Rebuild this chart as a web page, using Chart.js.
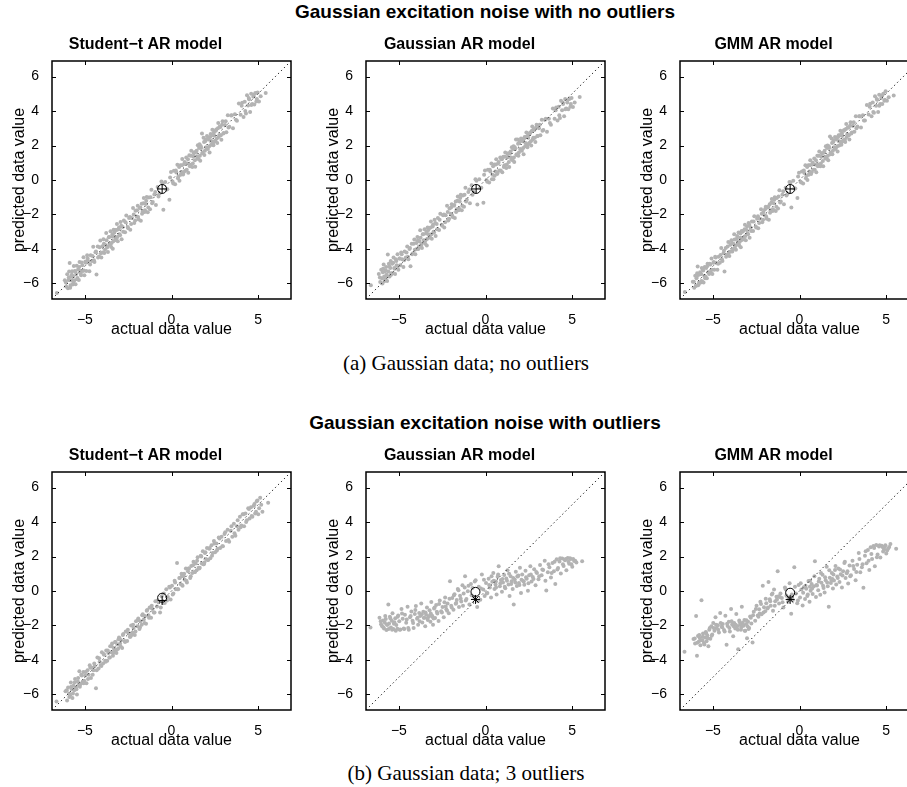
<!DOCTYPE html>
<html>
<head>
<meta charset="utf-8">
<script src="https://cdn.jsdelivr.net/npm/chart.js@4.4.1/dist/chart.umd.min.js"></script>
<style>
  html, body { margin: 0; padding: 0; background: #fff; overflow: hidden; }
  #page { position: relative; width: 907px; height: 787px; overflow: hidden; }
  canvas { position: absolute; }
  .sup { position: absolute; width: 600px; text-align: center; font: bold 19px "Liberation Sans", Arial, sans-serif; line-height: 22px; color: #000; }
  .cap { position: absolute; width: 500px; text-align: center; font: 21px "Liberation Serif", "Times New Roman", serif; line-height: 24px; color: #000; }
</style>
</head>
<body>
<div id="page">
  <div class="sup" style="left:185px; top:1px;">Gaussian excitation noise with no outliers</div>
  <div class="cap" style="left:216px; top:351px;">(a) Gaussian data; no outliers</div>
  <div class="sup" style="left:185px; top:412px;">Gaussian excitation noise with outliers</div>
  <div class="cap" style="left:216px; top:761px;">(b) Gaussian data; 3 outliers</div>
</div>
<script>
// axis setup
const axisLimits = [-6.9, 6.9];
const xTicks = [-5, 0, 5];
const yTicks = [-6, -4, -2, 0, 2, 4, 6];
const modelTitles = ['Student\u2212t AR model', 'Gaussian AR model', 'GMM AR model'];

// (a) no outliers: actual values and predictions of each model
const actualA = [
  -6.62,
  -6.16,-6.08,-6.02,-5.98,-5.95,-5.91,-5.88,-5.85,-5.81,-5.78,
  -5.74,-5.71,-5.68,-5.64,-5.61,-5.58,-5.54,-5.50,-5.47,-5.43,
  -5.39,-5.35,-5.31,-5.27,-5.22,-5.18,-5.13,-5.08,-5.03,-4.97,
  -4.92,-4.87,-4.81,-4.74,-4.67,-4.60,-4.52,-4.45,-4.39,-4.33,
  -4.26,-4.18,-4.11,-4.05,-3.99,-3.93,-3.88,-3.82,-3.77,-3.72,
  -3.67,-3.62,-3.57,-3.52,-3.48,-3.43,-3.39,-3.34,-3.29,-3.25,
  -3.20,-3.15,-3.10,-3.05,-3.00,-2.94,-2.88,-2.82,-2.75,-2.68,
  -2.61,-2.53,-2.45,-2.38,-2.30,-2.22,-2.15,-2.08,-2.01,-1.95,
  -1.89,-1.83,-1.77,-1.72,-1.66,-1.60,-1.55,-1.49,-1.43,-1.37,
  -1.31,-1.24,-1.16,-1.08,-0.99,-0.90,-0.80,-0.69,-0.58,-0.47,
  -0.36,-0.24,-0.12,-0.03,0.06,0.14,0.21,0.28,0.34,0.40,
  0.46,0.51,0.57,0.62,0.67,0.73,0.79,0.85,0.91,0.97,
  1.03,1.09,1.14,1.20,1.26,1.31,1.37,1.42,1.47,1.52,
  1.57,1.62,1.66,1.71,1.76,1.80,1.85,1.90,1.95,2.00,
  2.05,2.10,2.15,2.20,2.26,2.31,2.36,2.42,2.47,2.53,
  2.58,2.64,2.70,2.76,2.82,2.88,2.95,3.02,3.09,3.17,
  3.25,3.34,3.44,3.55,3.66,3.78,3.89,3.99,4.08,4.16,
  4.23,4.30,4.36,4.42,4.48,4.54,4.60,4.66,4.72,4.78,
  4.84,4.90,4.97,5.05,5.15,5.44,
  -6.10,-5.93,-5.83,-5.76,-5.66,-5.56,-5.45,-5.33,-5.25,-5.15,
  -5.06,-4.95,-4.84,-4.70,-4.56,-4.48,-4.36,-4.24,-4.15,-4.08,
  -3.97,-3.90,-3.84,-3.75,-3.69,-3.60,-3.54,-3.46,-3.41,-3.36,
  -3.30,-3.23,-3.17,-3.12,-3.03,-2.97,-2.90,-2.79,-2.65,-2.50,
  -2.40,-2.33,-2.18,-2.10,-1.99,-1.93,-1.80,-1.70,-1.62,-1.53,
  -1.46,-1.34,-1.21,-1.12,-0.94,-0.75,-0.52,-0.30,-0.08,0.10,
  0.25,0.37,0.44,0.53,0.60,0.70,0.76,0.88,0.95,1.06,
  1.12,1.23,1.29,1.35,1.45,1.50,1.59,1.64,1.69,1.78,
  1.88,1.93,1.98,2.07,2.13,2.18,2.23,2.29,2.34,2.40,
  2.45,2.50,2.56,2.62,2.68,2.73,2.79,2.85,2.92,2.99,
  3.13,3.29,3.48,3.72,4.05,4.26,4.46,4.61,4.75,4.93
];
const predStudentA = [
  -6.55,
  -5.81,-6.18,-5.47,-6.28,-5.80,-5.31,-4.81,-6.25,-5.61,-5.83,
  -5.29,-6.06,-5.58,-4.99,-5.81,-5.28,-6.04,-5.45,-4.97,-5.68,
  -5.19,-5.80,-4.76,-5.27,-5.52,-4.78,-5.28,-4.48,-5.53,-4.72,
  -5.27,-4.37,-4.71,-5.29,-4.37,-4.70,-3.87,-4.75,-4.19,-5.48,
  -3.86,-4.43,-3.51,-4.50,-3.84,-3.43,-4.23,-3.77,-3.07,-3.92,
  -4.17,-3.32,-3.67,-2.97,-3.88,-3.28,-3.99,-2.89,-3.29,-2.90,
  -3.50,-2.55,-3.55,-2.85,-3.15,-2.44,-3.43,-2.72,-2.35,-3.03,
  -2.06,-2.73,-2.20,-2.88,-2.20,-1.62,-2.50,-1.78,-2.11,-1.50,
  -2.29,-1.63,-2.37,-1.37,-1.81,-1.05,-1.85,-1.39,-0.98,-1.87,
  -1.01,-1.69,-0.56,-1.28,-0.84,-1.45,-0.40,-0.79,-0.08,-1.73,
  -0.11,-0.54,-1.15,0.47,-0.09,0.54,-0.24,0.43,0.89,0.20,
  -0.04,0.86,0.47,1.22,0.32,0.93,0.54,1.30,0.96,0.42,
  1.43,0.89,1.69,0.75,1.36,1.61,0.77,1.62,1.37,2.02,
  1.22,2.07,1.11,1.86,2.69,1.60,2.45,1.45,2.25,1.90,
  2.55,1.80,2.35,1.60,2.66,2.26,2.91,2.02,2.57,2.28,
  2.93,2.14,3.30,2.61,3.07,2.33,3.40,2.72,3.19,2.77,
  3.75,3.09,3.74,3.00,3.81,3.43,4.44,3.79,4.48,3.66,
  4.53,3.85,4.91,4.32,4.68,3.94,5.00,4.41,4.82,4.38,
  5.04,4.55,5.07,4.55,4.85,5.04,
  -5.95,-5.65,-6.10,-5.50,-5.90,-5.30,-5.75,-5.05,-5.40,-4.95,
  -5.25,-4.80,-4.55,-4.90,-4.40,-4.65,-4.15,-4.50,-3.90,-4.25,
  -4.20,-3.70,-4.05,-3.50,-3.85,-3.30,-3.75,-3.65,-3.15,-3.55,
  -3.05,-3.45,-2.90,-3.30,-2.75,-3.20,-2.65,-3.00,-2.45,-2.80,
  -2.15,-2.55,-2.00,-2.35,-1.75,-2.15,-1.60,-1.95,-1.35,-1.75,
  -1.20,-1.60,-1.00,-1.35,-0.70,-0.95,-0.20,-0.55,0.15,-0.20,
  0.55,0.10,0.75,0.30,0.85,0.45,1.05,0.60,1.20,0.80,
  1.40,0.95,1.55,1.15,1.70,1.25,1.85,1.40,1.95,1.55,
  2.20,1.70,2.35,1.85,2.45,1.95,2.50,2.05,2.60,2.15,
  2.75,2.25,2.85,2.40,3.00,2.50,3.10,2.60,3.20,2.70,
  3.40,3.05,3.75,3.50,4.30,4.00,4.75,4.35,4.95,4.70
];
const predGaussA = [
  -6.10,
  -5.45,-5.92,-5.20,-5.70,-6.00,-5.15,-4.90,-5.60,-5.30,-5.75,
  -5.05,-5.50,-5.85,-4.32,-5.30,-4.85,-5.60,-5.10,-4.70,-5.40,
  -4.85,-5.40,-4.50,-5.10,-5.45,-4.60,-4.95,-4.30,-5.20,-4.55,
  -4.95,-4.20,-4.60,-5.05,-4.15,-4.50,-3.85,-4.60,-4.00,-5.00,
  -3.70,-4.25,-3.45,-4.30,-3.65,-3.30,-4.00,-3.55,-2.92,-3.80,
  -3.95,-3.15,-3.50,-2.85,-3.70,-3.10,-3.80,-2.75,-3.15,-2.80,
  -3.35,-2.40,-3.40,-2.70,-3.00,-2.30,-3.25,-2.55,-2.20,-2.90,
  -1.95,-2.60,-2.05,-2.75,-2.05,-1.50,-2.35,-1.65,-1.95,-1.40,
  -2.15,-1.50,-2.20,-1.25,-1.70,-0.95,-1.75,-1.25,-0.85,-1.75,
  -0.90,-1.55,-0.45,-1.15,-0.70,-1.35,-0.30,-0.70,0.05,-1.42,
  0.05,-0.45,-1.32,0.55,0.00,0.60,-0.15,0.50,0.95,0.30,
  0.05,0.90,0.50,1.20,0.35,0.95,0.55,1.30,1.22,0.45,
  1.35,0.85,1.60,0.70,1.30,1.55,0.75,1.55,1.30,1.90,
  1.15,1.95,1.05,1.80,2.35,1.50,2.35,1.40,2.15,1.80,
  2.40,1.70,2.25,1.50,2.50,2.15,2.75,1.90,2.45,2.15,
  2.75,2.00,3.10,2.45,2.90,2.20,3.20,2.55,3.00,2.60,
  3.50,2.90,3.50,2.80,3.55,3.20,4.15,3.55,4.20,3.45,
  4.25,3.60,4.60,4.05,4.40,3.70,4.70,4.15,4.50,4.10,
  4.70,4.25,4.75,4.23,4.50,4.81,
  -5.65,-5.35,-5.85,-5.25,-5.60,-5.00,-5.50,-4.80,-5.15,-4.70,
  -5.00,-4.55,-4.30,-4.65,-4.20,-4.45,-3.95,-4.30,-3.70,-4.05,
  -4.00,-3.50,-3.85,-3.35,-3.70,-3.15,-3.60,-3.50,-3.00,-3.40,
  -2.90,-3.30,-2.75,-3.15,-2.60,-3.05,-2.50,-2.85,-2.30,-2.65,
  -2.00,-2.45,-1.85,-2.25,-1.60,-2.05,-1.45,-1.85,-1.20,-1.65,
  -1.05,-1.50,-0.85,-1.25,-0.55,-0.85,-0.05,-0.45,0.30,-0.10,
  0.60,0.05,0.80,0.25,0.90,0.40,1.05,0.55,1.20,0.75,
  1.35,0.90,1.50,1.05,1.65,1.20,1.80,1.30,1.90,1.45,
  2.10,1.60,2.25,1.75,2.35,1.85,2.40,1.95,2.50,2.00,
  2.60,2.10,2.70,2.25,2.85,2.35,2.95,2.45,3.05,2.55,
  3.20,2.85,3.55,3.30,4.05,3.75,4.50,4.10,4.65,4.40
];
const predGmmA = [
  -6.50,
  -5.90,-6.25,-5.55,-6.15,-5.70,-5.40,-5.02,-6.10,-5.50,-5.95,
  -5.35,-5.95,-5.45,-5.10,-5.90,-5.20,-5.95,-5.55,-5.05,-5.60,
  -5.10,-5.70,-4.85,-5.35,-5.45,-4.85,-5.35,-4.55,-5.45,-4.80,
  -5.20,-4.45,-4.80,-5.20,-4.45,-4.80,-3.95,-4.70,-4.25,-5.30,
  -3.95,-4.35,-3.60,-4.40,-3.75,-3.50,-4.15,-3.70,-3.15,-3.85,
  -4.05,-3.40,-3.60,-3.05,-3.80,-3.35,-3.90,-2.95,-3.35,-2.95,
  -3.45,-2.60,-3.50,-2.90,-3.10,-2.50,-3.35,-2.75,-2.40,-2.95,
  -2.10,-2.70,-2.25,-2.80,-2.25,-1.70,-2.45,-1.85,-2.05,-1.55,
  -2.25,-1.60,-2.30,-1.40,-1.75,-1.10,-1.80,-1.35,-1.00,-1.80,
  -1.05,-1.65,-0.60,-1.25,-0.85,-1.40,-0.45,-0.80,-0.12,-1.60,
  -0.05,-0.50,-1.05,0.42,-0.10,0.50,-0.20,0.40,0.85,0.25,
  0.00,0.85,0.50,1.15,0.35,0.90,0.60,1.25,0.90,0.45,
  1.40,0.90,1.65,0.80,1.35,1.55,0.80,1.60,1.35,1.95,
  1.25,2.00,1.15,1.85,2.52,1.60,2.40,1.50,2.20,1.90,
  2.50,1.85,2.35,1.65,2.60,2.25,2.85,2.05,2.55,2.30,
  2.90,2.20,3.25,2.65,3.05,2.35,3.35,2.75,3.15,2.80,
  3.70,3.10,3.70,3.05,3.75,3.45,4.35,3.80,4.42,3.70,
  4.50,3.90,4.85,4.30,4.65,3.95,4.95,4.40,4.75,4.40,
  5.00,4.60,5.15,4.60,4.80,4.90,
  -5.90,-5.60,-6.05,-5.45,-5.85,-5.25,-5.70,-5.00,-5.35,-4.90,
  -5.20,-4.75,-4.50,-4.85,-4.35,-4.60,-4.10,-4.45,-3.85,-4.20,
  -4.15,-3.65,-4.00,-3.45,-3.80,-3.25,-3.70,-3.60,-3.10,-3.50,
  -3.00,-3.40,-2.85,-3.25,-2.70,-3.15,-2.60,-2.95,-2.40,-2.75,
  -2.10,-2.50,-1.95,-2.30,-1.70,-2.10,-1.55,-1.90,-1.30,-1.70,
  -1.15,-1.55,-0.95,-1.30,-0.65,-0.90,-0.15,-0.50,0.20,-0.15,
  0.55,0.10,0.75,0.30,0.85,0.45,1.00,0.60,1.15,0.80,
  1.40,0.95,1.55,1.10,1.70,1.25,1.85,1.40,1.95,1.50,
  2.15,1.70,2.30,1.80,2.45,1.95,2.50,2.00,2.60,2.15,
  2.70,2.25,2.85,2.35,2.95,2.50,3.05,2.60,3.15,2.70,
  3.35,3.00,3.70,3.45,4.25,3.95,4.70,4.30,4.90,4.65
];

// (b) 3 outliers: actual values and predictions of each model
const actualB = [
  -6.64,-6.12,-6.03,-5.97,-5.92,-5.86,-5.81,-5.76,-5.72,-5.66,
  -5.61,-5.57,-5.52,-5.46,-5.41,-5.37,-5.32,-5.26,-5.21,-5.15,
  -5.09,-5.04,-4.98,-4.91,-4.85,-4.78,-4.72,-4.65,-4.58,-4.50,
  -4.43,-4.36,-4.28,-4.21,-4.15,-4.08,-4.02,-3.95,-3.89,-3.83,
  -3.77,-3.71,-3.65,-3.59,-3.54,-3.48,-3.43,-3.38,-3.33,-3.28,
  -3.23,-3.18,-3.13,-3.08,-3.03,-2.97,-2.91,-2.85,-2.78,-2.71,
  -2.64,-2.56,-2.48,-2.41,-2.33,-2.26,-2.19,-2.12,-2.05,-1.98,
  -1.92,-1.85,-1.79,-1.72,-1.66,-1.60,-1.53,-1.47,-1.40,-1.33,
  -1.26,-1.18,-1.10,-1.02,-0.93,-0.84,-0.75,-0.66,-0.57,-0.48,
  -0.39,-0.30,-0.21,-0.13,-0.05,0.03,0.11,0.18,0.25,0.32,
  0.39,0.45,0.52,0.58,0.64,0.70,0.76,0.83,0.89,0.95,
  1.01,1.08,1.14,1.20,1.27,1.33,1.39,1.45,1.51,1.57,
  1.63,1.69,1.75,1.81,1.87,1.93,1.99,2.05,2.12,2.18,
  2.24,2.31,2.38,2.45,2.52,2.59,2.66,2.73,2.81,2.89,
  2.97,3.06,3.15,3.24,3.33,3.42,3.51,3.60,3.69,3.78,
  3.87,3.95,4.03,4.11,4.19,4.27,4.35,4.43,4.51,4.59,
  4.67,4.75,4.83,4.92,5.01,5.12,5.25,5.58,
  -6.05,-5.90,-5.79,-5.69,-5.59,-5.49,-5.39,-5.29,-5.18,-5.07,
  -4.95,-4.82,-4.69,-4.55,-4.46,-4.32,-4.18,-4.05,-3.92,-3.80,
  -3.68,-3.56,-3.46,-3.36,-3.26,-3.16,-3.06,-2.94,-2.81,-2.68,
  -2.52,-2.37,-2.22,-2.08,-1.95,-1.82,-1.69,-1.56,-1.43,-1.30,
  -1.14,-0.98,-0.80,-0.62,-0.44,-0.26,-0.09,0.07,0.21,0.35,
  0.48,0.61,0.73,0.86,0.98,1.11,1.24,1.36,1.48,1.60,
  1.72,1.84,1.96,2.08,2.21,2.34,2.48,2.62,2.77,2.93,
  3.10,3.28,3.46,3.64,3.82,3.99,4.15,4.31,4.47,4.63,
  4.79,4.88,4.96,5.06,5.18,-3.00,-2.30,-1.20,0.60,1.90
];
const predStudentB = [
  -6.40,-5.82,-6.35,-5.60,-5.95,-6.05,-5.30,-5.70,-6.20,-5.50,
  -5.75,-5.10,-5.60,-6.00,-5.25,-5.45,-4.65,-5.40,-4.85,-5.30,
  -4.70,-5.20,-4.90,-5.35,-4.60,-4.85,-4.30,-5.05,-4.45,-4.60,
  -4.35,-5.64,-3.85,-4.50,-4.10,-4.30,-3.55,-4.20,-3.70,-4.05,
  -3.45,-4.05,-3.60,-3.85,-3.20,-3.55,-3.05,-3.75,-3.30,-3.50,
  -2.95,-3.60,-3.10,-3.35,-2.70,-3.05,-2.85,-3.30,-2.50,-2.90,
  -2.35,-2.90,-2.45,-2.65,-2.00,-2.40,-2.15,-2.55,-1.75,-2.05,
  -1.60,-2.20,-1.75,-1.95,-1.35,-1.65,-1.45,-1.90,-1.10,-1.40,
  -0.95,-1.55,-1.05,-1.25,-0.60,-0.90,-0.65,-1.25,-0.30,-0.70,
  -0.70,0.10,-0.35,0.25,-0.50,0.30,-0.15,0.60,0.10,1.62,
  0.10,0.75,0.40,1.00,0.30,0.85,0.65,1.30,0.50,1.15,
  1.30,0.75,1.45,1.05,1.70,1.10,1.60,1.20,1.95,1.35,
  1.35,2.05,1.60,2.30,1.55,2.20,1.85,2.50,1.80,2.45,
  1.90,2.65,2.20,2.90,2.25,2.75,2.45,3.10,2.50,3.15,
  2.60,3.30,2.90,3.55,2.85,3.50,3.15,3.90,3.20,3.75,
  3.55,4.30,3.80,4.45,3.75,4.50,4.10,4.80,4.20,4.85,
  4.30,4.95,4.50,5.20,4.45,5.41,4.60,5.12,
  -5.75,-6.15,-5.55,-5.95,-5.30,-5.70,-5.05,-5.55,-4.90,-5.35,
  -4.70,-5.10,-4.45,-4.85,-4.20,-4.60,-3.90,-4.35,-3.65,-4.10,
  -3.45,-3.85,-3.20,-3.60,-2.95,-3.40,-2.80,-3.20,-2.55,-2.95,
  -2.25,-2.65,-1.95,-2.35,-1.70,-2.10,-1.40,-1.85,-1.15,-1.55,
  -0.85,-1.25,-0.55,-0.95,-0.15,-0.55,0.20,-0.20,0.50,0.10,
  0.75,0.35,1.00,0.60,1.30,0.85,1.50,1.10,1.75,1.30,
  2.00,1.55,2.25,1.80,2.50,2.05,2.75,2.35,3.05,2.60,
  3.40,2.95,3.75,3.35,4.10,3.70,4.45,4.00,4.75,4.35,
  5.05,4.60,5.25,4.80,5.00,-2.75,-2.55,-0.95,0.85,1.65
];
const predGaussB = [
  -2.12,-1.55,-1.93,-2.05,-1.71,-2.18,-1.84,-1.62,-2.26,-1.95,
  -0.78,-1.88,-1.49,-2.12,-1.73,-1.29,-2.21,-1.81,-1.58,-1.97,
  -2.19,-1.42,-1.76,-2.23,-1.05,-1.61,-2.18,-1.38,-1.84,-0.91,
  -2.25,-1.52,-1.19,-1.73,-2.14,-1.34,-0.87,-1.61,-1.96,-1.27,
  -1.45,-0.72,-1.82,-1.21,-1.55,-2.04,-1.38,-0.96,-1.68,-1.49,
  -1.12,-1.79,-0.64,-1.43,-1.95,-1.02,-1.56,-0.81,-1.31,-1.74,
  -0.55,-1.18,-0.93,-1.52,-0.38,-1.06,-0.72,-1.29,0.57,-0.86,
  -0.41,-1.08,-0.19,-0.74,-0.52,0.12,-0.93,-0.28,-0.61,0.33,
  -0.15,0.85,-0.47,-0.02,-0.78,0.41,0.18,-0.35,0.62,-0.93,
  0.24,-0.51,0.95,0.08,-0.29,0.46,-0.12,0.71,0.21,-0.38,
  0.53,1.05,0.12,0.37,-0.21,0.82,1.43,0.28,0.64,-0.05,
  0.49,0.93,0.16,0.72,1.21,0.38,-0.29,0.85,0.57,0.11,
  -0.78,0.66,1.12,0.29,0.84,0.47,1.35,-0.12,0.95,0.58,
  0.36,1.18,0.71,0.02,0.92,1.44,0.55,0.81,1.26,0.33,
  1.05,0.68,1.51,0.91,1.22,1.76,0.03,1.09,1.38,0.79,
  1.62,1.15,0.41,1.84,1.33,1.71,1.02,1.88,1.45,1.79,
  1.21,1.92,1.58,1.86,1.41,1.74,1.65,1.72,
  -1.75,-2.10,-1.45,-1.95,-2.20,-1.60,-2.25,-1.90,-2.30,-1.50,
  -2.25,-1.30,-2.20,-1.65,-2.15,-1.45,-1.85,-1.10,-1.55,-1.75,
  -1.35,-1.55,-1.25,-1.60,-1.45,-1.30,-1.50,-0.95,-1.20,-0.75,
  -1.25,-0.65,-1.15,-0.45,-0.95,-0.25,-0.70,0.05,-0.45,-0.85,
  -0.55,0.30,-0.25,0.55,-0.60,0.15,0.65,-0.15,0.35,0.85,
  0.60,0.20,0.95,0.45,0.70,0.25,0.60,1.00,0.40,0.75,
  0.50,0.85,0.35,0.65,0.55,0.80,0.45,0.95,0.70,1.10,
  0.85,1.25,0.60,1.55,1.05,1.70,1.25,1.90,1.55,1.85,
  1.70,1.90,1.55,1.85,1.75,-1.60,-0.90,0.20,0.55,0.90
];
const predGmmB = [
  -3.52,-2.78,-3.05,-1.45,-3.75,-2.61,-2.93,-2.72,-3.14,-0.53,
  -2.85,-2.46,-3.02,-2.69,-2.38,-2.91,-2.58,-3.21,-2.24,-2.77,
  -2.05,-2.52,-1.86,-2.31,-1.52,-2.14,-1.98,-2.41,-1.27,-2.08,
  -1.91,-2.26,-1.43,-3.12,-2.03,-1.78,-2.35,-1.05,-1.94,-2.62,
  -1.86,-2.18,-1.33,-2.05,-3.38,-1.71,-1.96,-2.24,-0.92,-1.84,
  -2.01,-1.68,-2.31,-1.92,-2.74,-1.79,-2.15,-1.48,-1.88,-2.98,
  -1.21,-1.73,-0.85,-1.42,-1.06,-0.62,-1.35,0.31,-0.94,-1.18,
  -0.71,-1.02,0.52,-0.48,-0.85,-0.21,-1.14,0.08,-0.59,-0.33,
  1.15,-0.72,-0.14,-0.41,-0.95,0.21,-0.28,-0.63,0.45,-1.32,
  -0.52,1.38,-0.15,-0.71,0.35,-0.38,0.08,-0.84,0.22,-0.46,
  0.13,-0.29,0.58,-0.62,0.02,0.41,-0.18,0.27,1.72,-0.35,
  0.32,0.05,0.71,-0.22,0.48,0.94,0.18,-0.08,0.62,1.41,
  0.28,-0.92,0.77,0.46,1.05,0.15,0.61,1.22,0.38,0.84,
  1.31,0.52,0.97,0.21,1.14,1.62,0.76,1.03,0.44,1.48,
  0.91,1.76,1.28,0.63,1.52,2.21,1.09,1.38,0.19,2.05,
  1.61,2.38,1.22,2.54,1.85,2.61,1.43,2.66,2.12,2.58,
  1.94,2.63,2.29,2.55,2.18,2.47,2.72,2.45,
  -2.75,-3.00,-2.55,-2.85,-2.65,-3.10,-2.45,-2.75,-2.15,-2.60,
  -2.15,-1.95,-2.25,-1.85,-2.10,-2.35,-1.90,-2.15,-1.75,-2.05,
  -1.95,-2.25,-1.80,-2.10,-1.95,-2.30,-1.70,-2.20,-1.55,-1.40,
  -1.05,-1.50,-0.75,-1.25,-0.45,-0.95,-0.60,-0.15,-0.85,-0.50,
  -0.35,-0.65,0.10,-0.45,-0.20,0.25,-0.55,0.45,-0.10,0.30,
  -0.20,0.60,0.15,0.85,0.35,0.55,1.05,0.30,0.80,0.50,
  1.20,0.60,0.95,1.45,0.75,1.25,0.90,1.70,1.15,0.85,
  1.45,1.10,1.85,1.55,2.30,1.75,2.15,2.50,1.95,2.65,
  2.55,2.40,2.65,2.35,2.55,-2.05,-1.30,-0.30,0.25,0.70
];

// mean markers per panel (row a then row b)
const circleX = [-0.54, -0.54, -0.54, -0.54, -0.58, -0.54];
const circleY = [-0.52, -0.52, -0.52, -0.39, -0.05, -0.10];
const crossX  = [-0.54, -0.54, -0.54, -0.54, -0.58, -0.54];
const crossY  = [-0.52, -0.52, -0.52, -0.55, -0.49, -0.49];
const crossStyle = ['cross', 'cross', 'cross', 'cross', 'star', 'star'];

const panels = [
  { actual: actualA, pred: predStudentA },
  { actual: actualA, pred: predGaussA },
  { actual: actualA, pred: predGmmA },
  { actual: actualB, pred: predStudentB },
  { actual: actualB, pred: predGaussB },
  { actual: actualB, pred: predGmmB }
];

const FONT = '"Liberation Sans", Arial, Helvetica, sans-serif';
const plotLefts = [52, 366, 680];
const plotTops = [61, 472];
const titleH = 31, xAxisH = 42, yAxisW = 52, plotW = 239, plotH = 238;

const boxPlugin = {
  id: 'box',
  afterDatasetsDraw(chart) {
    const { ctx, chartArea: a, scales: { x, y } } = chart;
    ctx.save();
    ctx.strokeStyle = '#000';
    ctx.lineWidth = 1;
    ctx.beginPath();
    xTicks.forEach(v => {
      const px = Math.round(x.getPixelForValue(v)) + 0.5;
      ctx.moveTo(px, a.bottom); ctx.lineTo(px, a.bottom - 4);
      ctx.moveTo(px, a.top); ctx.lineTo(px, a.top + 4);
    });
    yTicks.forEach(v => {
      const py = Math.round(y.getPixelForValue(v)) + 0.5;
      ctx.moveTo(a.left, py); ctx.lineTo(a.left + 4, py);
      ctx.moveTo(a.right, py); ctx.lineTo(a.right - 4, py);
    });
    ctx.stroke();
    ctx.lineWidth = 1.5;
    ctx.strokeRect(a.left, a.top, a.right - a.left, a.bottom - a.top);
    ctx.restore();
  }
};

const minus = v => String(v).replace('-', '\u2212');
const page = document.getElementById('page');

panels.forEach((p, i) => {
  const row = Math.floor(i / 3), col = i % 3;
  const cv = document.createElement('canvas');
  cv.width = yAxisW * 2 + plotW;
  cv.height = titleH + plotH + xAxisH;
  cv.style.left = (plotLefts[col] - yAxisW) + 'px';
  cv.style.top = (plotTops[row] - titleH) + 'px';
  page.appendChild(cv);

  new Chart(cv.getContext('2d'), {
    type: 'scatter',
    data: {
      datasets: [{
        data: [{ x: circleX[i], y: circleY[i] }],
        pointStyle: 'circle',
        pointRadius: 4.5,
        borderColor: '#000',
        backgroundColor: 'rgba(0,0,0,0)',
        borderWidth: 1
      }, {
        data: [{ x: crossX[i], y: crossY[i] }],
        pointStyle: crossStyle[i],
        pointRadius: 4.5,
        borderColor: '#000',
        borderWidth: 1
      }, {
        data: axisLimits.map(v => ({ x: v, y: v })),
        showLine: true,
        borderColor: '#000',
        borderWidth: 1,
        borderDash: [1.2, 3],
        pointRadius: 0
      }, {
        data: p.actual.map((v, k) => ({ x: v, y: p.pred[k] })),
        pointRadius: 2,
        pointBorderWidth: 0,
        backgroundColor: '#b3b3b3',
        borderColor: '#b3b3b3'
      }]
    },
    options: {
      responsive: false,
      animation: false,
      events: [],
      layout: { padding: { right: yAxisW } },
      plugins: {
        legend: { display: false },
        tooltip: { enabled: false },
        title: {
          display: true,
          text: modelTitles[col],
          color: '#000',
          font: { family: FONT, size: 16, weight: 'bold' },
          padding: { top: 5, bottom: 6.8 }
        }
      },
      scales: {
        x: {
          type: 'linear',
          min: axisLimits[0],
          max: axisLimits[1],
          grid: { display: false },
          border: { display: false },
          afterBuildTicks: s => { s.ticks = xTicks.map(v => ({ value: v })); },
          afterFit: s => { s.height = xAxisH; },
          ticks: { color: '#000', padding: 4.6, font: { family: FONT, size: 14 }, callback: minus },
          title: { display: true, text: 'actual data value', color: '#000',
                   font: { family: FONT, size: 16 }, padding: { top: 0, bottom: 1.9 } }
        },
        y: {
          type: 'linear',
          min: axisLimits[0],
          max: axisLimits[1],
          grid: { display: false },
          border: { display: false },
          afterBuildTicks: s => { s.ticks = yTicks.map(v => ({ value: v })); },
          afterFit: s => { s.width = yAxisW; },
          ticks: { color: '#000', padding: 5, font: { family: FONT, size: 14 }, callback: minus },
          title: { display: true, text: 'predicted data value', color: '#000',
                   font: { family: FONT, size: 16 }, padding: { top: 10.4, bottom: 0 } }
        }
      }
    },
    plugins: [boxPlugin]
  });
});
</script>
</body>
</html>
